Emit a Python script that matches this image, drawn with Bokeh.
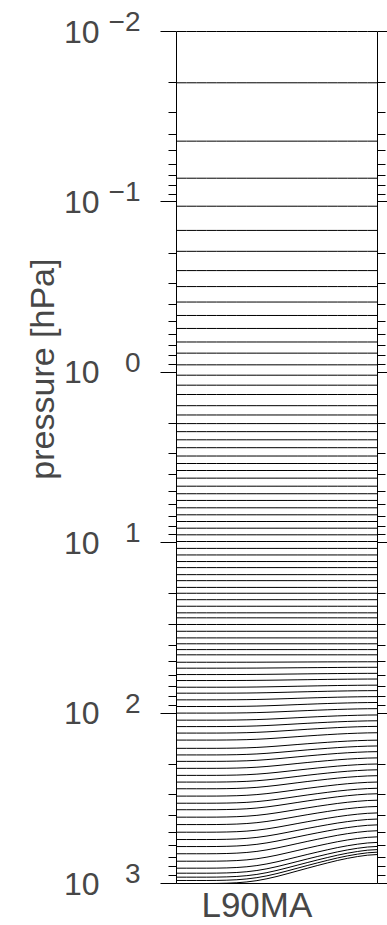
import numpy as np
from bokeh.plotting import figure
from bokeh.models import Range1d, FixedTicker, LogAxis, CustomJSTickFormatter
from bokeh.embed import file_html
from bokeh.resources import INLINE

# ---------------- data ----------------
grid_name = "L90MA"

# interface pressures (hPa) for a reference surface pressure of 1000 hPa
p_ref = [0.01, 0.02, 0.044, 0.0726, 0.106, 0.147, 0.195, 0.253, 0.314, 0.387,
         0.464, 0.553, 0.664, 0.772, 0.904, 1.04, 1.19, 1.35, 1.57, 1.78,
         2.00, 2.23, 2.49, 2.77, 3.10, 3.43, 3.77, 4.18, 4.66, 5.16,
         5.65, 6.24, 6.86, 7.51, 8.22, 8.99, 9.84, 10.8, 11.8, 12.9,
         14.0, 15.4, 16.7, 18.3, 19.8, 21.6, 23.6, 25.8, 27.6, 30.2,
         33.1, 36.2, 39.2, 42.4, 45.5, 50.3, 54.5, 59.4, 64.4, 70.5,
         76.4, 83.6, 91.5, 100.0, 110.0, 120.0, 131.0, 144.0, 161.0, 176.0,
         192.0, 211.0, 232.0, 254.0, 278.0, 307.0, 338.0, 369.0, 408.0, 451.0,
         500.0, 552.0, 607.0, 669.0, 740.0, 813.0, 870.0, 918.0, 960.0, 1000.0]

# hybrid "b" coefficients (sensitivity of each interface to surface pressure)
b_coef = [0.0] * 55 + [0.001, 0.002, 0.003, 0.004, 0.006, 0.008, 0.011, 0.015, 0.018, 0.023,
                       0.028, 0.035, 0.042, 0.052, 0.062, 0.073, 0.086, 0.102, 0.120, 0.139,
                       0.164, 0.191, 0.221, 0.258, 0.302, 0.354, 0.412, 0.476, 0.552, 0.641,
                       0.738, 0.815, 0.882, 0.942, 1.000]

# surface pressure along the section
x_frac = [0.00, 0.05, 0.10, 0.15, 0.20, 0.25, 0.30, 0.35, 0.40, 0.45, 0.50,
          0.55, 0.60, 0.65, 0.70, 0.75, 0.80, 0.85, 0.90, 0.95, 1.00]
ps_hpa = [1000, 1000, 1000, 1000, 999, 996, 990, 979, 962, 938, 909,
          877, 845, 814, 785, 758, 733, 712, 695, 682, 676]
ps_ref = 1000.0

p_top, p_bottom = 0.01, 1000.0
major_ticks = [0.01, 0.1, 1, 10, 100, 1000]
tick_base = "10"
tick_exponents = ["\u22122", "\u22121", "0", "1", "2", "3"]
y_title = "pressure [hPa]"

# ---------------- figure ----------------
FONT = "Liberation Sans"
TXT = "#474747"
PX_PER_DECADE = 170.4
raise_px = 10.0                       # exponent raised above its "10"
shift = 10 ** (-raise_px / PX_PER_DECADE)

ps = np.array(ps_hpa, dtype=float)
xs = [list(x_frac) for _ in p_ref]
ys = [list(pr + b * (ps - ps_ref)) for pr, b in zip(p_ref, b_coef)]

minor = [m * t for t in major_ticks[:-1] for m in range(2, 10)]
ticker = FixedTicker(ticks=major_ticks, minor_ticks=minor)

# the frame reaches 10 px above the model top so the top exponent fits;
# the box itself is drawn by the bounded axes and the top level line
p = figure(frame_width=201, frame_height=862, y_axis_type="log",
           x_range=Range1d(0, 1), y_range=Range1d(p_bottom, p_top * shift),
           output_backend="svg", toolbar_location=None,
           min_border_left=176, min_border_right=10,
           min_border_top=21, min_border_bottom=38)
p.xgrid.visible = False
p.ygrid.visible = False
p.outline_line_color = None

p.multi_line(xs=xs, ys=ys, line_color="black", line_width=1)

EMPTY = CustomJSTickFormatter(code="return '';")
NO_TICKS = dict(axis_line_color=None, major_tick_line_color=None,
                minor_tick_line_color=None, major_tick_out=0, minor_tick_out=0,
                major_tick_in=0, minor_tick_in=0)

# left axis: ticks only (innermost)
ya = p.yaxis[0]
ya.ticker = ticker
ya.bounds = (p_top, p_bottom)
ya.formatter = EMPTY
ya.major_tick_out = 16
ya.minor_tick_out = 8
ya.major_tick_in = 0
ya.minor_tick_in = 0
ya.axis_line_color = "black"
ya.major_tick_line_color = "black"
ya.minor_tick_line_color = "black"
ya.major_label_standoff = 0
ya.major_label_text_font_size = "0px"

# exponent labels, raised above each decade tick
exp_ticks = [t * shift for t in major_ticks]
exp_axis = LogAxis(ticker=FixedTicker(ticks=exp_ticks, minor_ticks=[]),
                   formatter=CustomJSTickFormatter(
                       args=dict(labels=tick_exponents, shift=shift,
                                 exps=[int(round(np.log10(t))) for t in major_ticks]),
                       code="const k = Math.round(Math.log10(tick / shift));"
                            "const i = exps.indexOf(k); return i >= 0 ? labels[i] : '';"),
                   major_label_standoff=20, major_label_text_font=FONT,
                   major_label_text_font_size="28px", major_label_text_color=TXT,
                   **NO_TICKS)
p.add_layout(exp_axis, "left")

# base "10" labels
base_axis = LogAxis(ticker=FixedTicker(ticks=major_ticks, minor_ticks=[]),
                    formatter=CustomJSTickFormatter(args=dict(base=tick_base), code="return base;"),
                    major_label_standoff=6, major_label_text_font=FONT,
                    major_label_text_font_size="32px", major_label_text_color=TXT,
                    **NO_TICKS)
p.add_layout(base_axis, "left")

# y title (rotated label anchored at its upper end)
title_axis = LogAxis(ticker=FixedTicker(ticks=[0.215], minor_ticks=[]),
                     formatter=CustomJSTickFormatter(args=dict(t=y_title), code="return t;"),
                     major_label_orientation=np.pi / 2,
                     major_label_standoff=18, major_label_text_font=FONT,
                     major_label_text_font_size="34px", major_label_text_color=TXT,
                     **NO_TICKS)
p.add_layout(title_axis, "left")

# right axis (ticks only)
ra = LogAxis(ticker=ticker, formatter=EMPTY, bounds=(p_top, p_bottom),
             major_tick_out=10, minor_tick_out=8, major_tick_in=0, minor_tick_in=0,
             major_label_standoff=0, major_label_text_font_size="0px",
             axis_line_color="black")
p.add_layout(ra, "right")

# bottom axis (grid name)
xa = p.xaxis[0]
xa.ticker = FixedTicker(ticks=[0.4], minor_ticks=[])
xa.formatter = CustomJSTickFormatter(args=dict(name=grid_name), code="return name;")
xa.major_tick_out = 0
xa.major_tick_in = 0
xa.minor_tick_out = 0
xa.minor_tick_in = 0
xa.major_label_standoff = 1
xa.major_label_text_font = FONT
xa.major_label_text_font_size = "35px"
xa.major_label_text_color = TXT
xa.axis_line_color = "black"

open("out.html", "w").write(file_html(p, INLINE))
